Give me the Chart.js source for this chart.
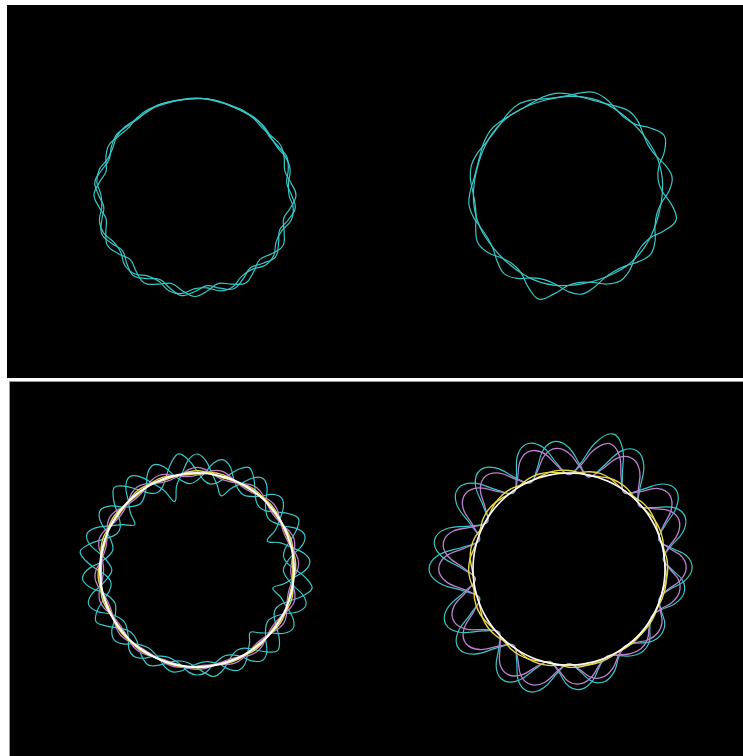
<!DOCTYPE html>
<html><head><meta charset="utf-8">
<script src="https://cdn.jsdelivr.net/npm/chart.js@4.4.1/dist/chart.umd.min.js"></script>
<style>
html,body{margin:0;padding:0;background:#fff;width:743px;height:756px;overflow:hidden}
body{position:relative}
.panel{position:absolute;background:#000}
#p1{left:7px;top:5px;width:736px;height:373px}
#p2{left:9px;top:381px;width:734px;height:375px;border-top:1px solid #9a9a9a;border-left:1px solid #9a9a9a}
.c{position:absolute;width:300px;height:300px}
</style></head><body>
<div class="panel" id="p1"></div>
<div class="panel" id="p2"></div>
<div class="c" style="left:45px;top:45px"><canvas id="tl" width="300" height="300"></canvas></div>
<div class="c" style="left:418px;top:41px"><canvas id="tr" width="300" height="300"></canvas></div>
<div class="c" style="left:47px;top:420px"><canvas id="bl" width="300" height="300"></canvas></div>
<div class="c" style="left:419px;top:419px"><canvas id="br" width="300" height="300"></canvas></div>
<script>
// angle categories (degrees, clockwise from top)
const angles48 = [0,7.5,15,22.5,30,37.5,45,52.5,60,67.5,75,82.5,90,97.5,105,112.5,120,127.5,135,142.5,150,157.5,165,172.5,180,187.5,195,202.5,210,217.5,225,232.5,240,247.5,255,262.5,270,277.5,285,292.5,300,307.5,315,322.5,330,337.5,345,352.5];
const angles60 = [0,6,12,18,24,30,36,42,48,54,60,66,72,78,84,90,96,102,108,114,120,126,132,138,144,150,156,162,168,174,180,186,192,198,204,210,216,222,228,234,240,246,252,258,264,270,276,282,288,294,300,306,312,318,324,330,336,342,348,354];
const angles80 = [0,4.5,9,13.5,18,22.5,27,31.5,36,40.5,45,49.5,54,58.5,63,67.5,72,76.5,81,85.5,90,94.5,99,103.5,108,112.5,117,121.5,126,130.5,135,139.5,144,148.5,153,157.5,162,166.5,171,175.5,180,184.5,189,193.5,198,202.5,207,211.5,216,220.5,225,229.5,234,238.5,243,247.5,252,256.5,261,265.5,270,274.5,279,283.5,288,292.5,297,301.5,306,310.5,315,319.5,324,328.5,333,337.5,342,346.5,351,355.5];

// top-left panel (radius values)
const tlCyan1 = [96.5,97.1,96.5,95.8,96.5,97.6,96.5,94.5,96.5,99.5,96.5,92.5,96.5,101.1,96.5,91.6,96.5,101.5,96.5,91.5,96.5,101.5,96.5,91.5,96.5,101.5,96.5,91.5,96.5,101.5,96.5,91.5,96.5,101,96.5,92,96.5,101,96.5,93,96.5,99,96.5,95,96.5,97.3,96.5,96];
const tlCyan2 = [97,96.5,95.9,96.5,97.3,96.5,95,96.5,99,96.5,93,96.5,101,96.5,91.7,96.5,101.5,96.5,91.5,96.5,101.5,96.5,91.5,96.5,101.5,96.5,91.5,96.5,101.5,96.5,91.5,96.5,101,96.5,92,96.5,101,96.5,92,96.5,99.5,96.5,94.5,96.5,97.5,96.5,95.9,96.5];
const tlCyan3 = [96.2,96.8,96.8,96.1,96.1,97.1,97.3,95.4,95.1,98.2,98.5,94.3,94,99.1,99.2,93.8,93.7,99.3,99.3,93.7,93.7,99.3,99.3,93.7,93.7,99.3,99.3,93.7,93.7,99.3,99.3,93.7,94,99,99,94,94,99,99,94.5,94.8,97.9,97.6,95.7,95.9,97,96.8,96.2];

// top-right panel
const trCyan1 = [94.5,95.1,95.3,95.1,94.5,93.9,93.7,93.9,94.5,95.1,95.3,95.1,94.5,93.9,93.7,93.9,94.5,95.1,95.3,95.1,94.5,93.9,93.7,93.9,94.5,95.1,95.3,95.1,94.5,93.9,93.7,93.9,94.5,95.1,95.3,95.1,94.5,93.9,93.7,93.9,94.5,95.1,95.3,95.1,94.5,93.9,93.7,93.9];
const trCyan2 = [95.3,99,102,99.6,95,92.6,94.5,103.5,111,104.5,94,90.8,94,104.5,112,104,94.3,92,94.6,100.7,104,100.7,94.6,92.2,94.5,103.5,112,104,94.2,91.6,94.5,101,104,99.9,95.1,93.8,95.3,98.5,100,98.2,95.4,94.4,95.4,98.2,100,98.4,95.3,94.1];
const trCyan3 = [97.2,95,94.1,94.9,97.7,100.5,98.8,94.5,92.3,94.2,100.5,105,101,94,91.7,94.1,100.5,104,99.9,94.4,92.7,94.4,99.9,104,100.5,94.1,91.7,94,101,104.5,99.9,94.5,93.1,94.7,98.3,100,97.7,94.9,94.1,95,97.2,98.5,97.2,95.1,94.3,95.1,97.2,98.5];

// bottom-left panel
const blWhite = [97,97,97,97,97,97,97,97,97,97,97,97,97,97,97,97,97,97,97,97,97,97,97,97,97,97,97,97,97,97,97,97,97,97,97,97,97,97,97,97,97,97,97,97,97,97,97,97,97,97,97,97,97,97,97,97,97,97,97,97,97,97,97,97,97,97,97,97,97,97,97,97,97,97,97,97,97,97,97,97];
const blYellow1 = [99.3,98.6,97,96.1,95.8,96.2,97,98.3,98.9,98.3,97,96.2,95.9,96.2,97,98.3,98.9,98.4,97,96.1,95.7,96.1,97,98.5,99.1,98.5,97,96.2,95.9,96.2,97,98.3,98.8,98.2,97,96.4,96.2,96.5,97,97.7,97.9,97.7,97,96.6,96.4,96.6,97,97.8,98.2,97.9,97,96.4,96.1,96.3,97,98.3,99,98.5,97,96.1,95.6,96,97,98.5,99.2,98.6,97,96.1,95.7,96.1,97,98.5,99.2,98.5,97,96.1,95.6,96.1,97,98.6];
const blYellow2 = [96.2,97,98.4,98.9,98.3,97,96.2,95.9,96.3,97,98.2,98.7,98.2,97,96.3,96,96.2,97,98.3,98.9,98.4,97,96.2,95.8,96.2,97,98.3,98.9,98.3,97,96.3,96,96.3,97,98,98.4,97.9,97,96.5,96.4,96.6,97,97.6,97.9,97.7,97,96.6,96.4,96.5,97,97.9,98.3,98,97,96.2,95.9,96.2,97,98.4,99.1,98.5,97,96.1,95.8,96.1,97,98.4,99,98.4,97,96.2,95.8,96.2,97,98.4,99,98.4,97,96.2,95.8];
const blMagenta1 = [102.7,100.9,97,94.8,93.9,94.9,97,100.4,101.7,100.3,97,95.1,94.3,95.1,97,100.3,101.9,100.5,97,94.8,93.8,94.8,97,100.7,102.2,100.6,97,94.9,94.1,95,97,100.2,101.4,100,97,95.4,94.9,95.6,97,98.9,99.4,98.7,97,95.9,95.5,95.9,97,99,100,99.3,97,95.4,94.7,95.3,97,100.3,102,100.7,97,94.6,93.4,94.5,97,101,102.6,100.9,97,94.7,93.8,94.7,97,100.8,102.4,100.8,97,94.7,93.7,94.7,97,101];
const blMagenta2 = [94.8,97,100.5,101.9,100.3,97,95.1,94.4,95.2,97,100,101.2,99.9,97,95.2,94.4,95.1,97,100.3,101.9,100.5,97,94.9,94.1,95,97,100.3,101.7,100.2,97,95.2,94.5,95.3,97,99.6,100.5,99.3,97,95.9,95.5,96.1,97,98.6,99.3,98.7,97,96,95.5,95.9,97,99.2,100.4,99.5,97,95.3,94.4,95.1,97,100.5,102.3,100.9,97,94.8,93.9,94.8,97,100.5,102,100.5,97,94.9,94,94.9,97,100.5,102,100.5,97,94.8,93.9];
const blCyan1 = [116,110,97,87,78,88,97,108.2,112.8,108,97,90.6,88,90.7,97,108.1,113.2,108.7,97,89.6,86.3,89.5,97,109.3,114.4,109.1,97,89.9,87.3,90.3,97,107.5,111.6,106.9,97,91.8,90.1,92.5,97,103.2,105,102.7,97,93.4,91.9,93.3,97,103.5,107,104.6,97,91.8,89.3,91.2,97,108.1,113.7,109.3,97,88.9,85.1,88.7,97,110.4,115.8,110,97,87,77,87.5,97,109.6,115,109.6,97,86,72,87,97,110.2];
const blCyan2 = [89.6,97,108.7,113.3,108.1,97,90.7,88.3,90.9,97,107,111.1,106.8,97,88,76,88,97,108,113.2,108.6,97,88,78,88,97,108,112.5,107.6,97,89,82,89.5,97,105.6,108.5,104.5,97,93.2,92.1,93.9,97,102.3,104.8,102.5,97,93.6,91.9,93.2,97,104.4,108.3,105.4,97,91.3,88.4,90.6,97,108.8,114.8,109.9,97,89.5,86.5,89.7,97,108.7,113.6,108.6,97,90,87.1,90,97,108.7,113.8,108.8,97,89.8,86.6];
const blCyan3 = [99.1,89.8,87,90.2,98.9,109,114.9,108.4,98.7,91,88.5,91.1,98.7,107.7,113.8,108.3,98.8,90.6,87.6,90.2,99,109.8,116.5,109.6,98.9,90.3,87.6,90.5,98.8,108.4,114,107.7,98.6,91.6,89.6,92.2,98.3,104.7,107.8,103.4,97.9,93.8,92.4,93.7,98,103.3,106.8,103.6,98.1,92.8,90.6,92.3,98.4,106.9,113.4,108.3,98.8,90.2,86.9,89.6,99.2,111.1,118.3,110.7,99.1,89.9,87.1,90.1,99,109.9,116.8,109.9,99,90.1,87,90,99,110.3,117.6,110.5];

// bottom-right panel
const brWhite = [96,96,96,96,96,96,96,96,96,96,96,96,96,96,96,96,96,96,96,96,96,96,96,96,96,96,96,96,96,96,96,96,96,96,96,96,96,96,96,96,96,96,96,96,96,96,96,96,96,96,96,96,96,96,96,96,96,96,96,96];
const brYellow1 = [95.8,97,99.4,100.6,99.6,97.1,95.8,97,99.1,99.7,98.8,96.8,95.8,96.8,98.3,98.7,98,96.6,95.9,96.5,97.5,97.7,97.3,96.4,95.9,96.4,97.6,98.2,97.9,96.7,95.9,96.8,98.5,99.3,98.7,96.9,95.8,97,99.1,100,99.3,97.1,95.8,97.1,99.5,100.4,99.5,97.1,95.8,97.1,99.4,100.1,99.2,97,95.8,97,99,99.6,98.8,96.9];
const brYellow2 = [98.5,96.9,95.8,97.1,99.3,100,99.1,96.9,95.8,96.9,98.6,99.1,98.4,96.7,95.9,96.6,97.9,98.1,97.6,96.5,95.9,96.4,97.2,97.5,97.1,96.4,95.9,96.5,97.8,98.5,98.2,96.7,95.9,96.8,98.6,99.3,98.8,96.9,95.8,96.9,99.1,99.9,99.2,97,95.8,97,99.3,100.2,99.4,97,95.8,97,99,99.7,98.9,96.9,95.8,96.8,98.6,99.2];
const brMagenta1 = [94.7,103.4,122.2,131.9,123.9,104.4,94.4,103.9,120.2,124.9,118,102.6,94.8,101.9,113.9,117.1,111.6,100.5,95.2,99.8,107.4,109.3,106.1,99,95.5,99.4,108.3,113.2,111.1,101.2,94.8,101.9,115.8,121.7,117.4,102.9,94.5,103.4,120.3,127.2,121.6,104.2,94.3,104.4,123.3,130.3,123.6,104.7,94.3,104.5,122.4,128,121.1,103.7,94.4,103.4,119.1,124.1,118,102.8];
const brMagenta2 = [115.7,102.9,94.4,104.3,122,127.4,120.4,103.3,94.6,102.7,116.4,120.4,114.6,101.5,95,100.9,110.5,112.7,108.2,99.6,95.4,99.1,105.5,107.4,104.7,99.1,95.3,100,110.1,115.3,112.8,101.5,94.8,102,115.9,121.9,117.5,102.9,94.6,103.3,119.8,126.5,121,103.9,94.4,104,121.7,128.4,122.1,104,94.4,103.4,119.4,124.8,118.6,102.9,94.7,102.6,116.4,121.2];
const brCyan1 = [94.3,105.5,129.6,142,131.8,106.8,93.9,106.1,127,133,124.2,104.4,94.4,103.6,119,123,116,101.8,95,100.9,110.6,113,109,99.9,95.3,100.3,111.8,118,115.4,102.7,94.5,103.6,121.4,129,123.4,104.9,94.1,105.5,127.2,136,128.8,106.5,93.8,106.8,131,140,131.4,107.2,93.8,106.9,129.8,137,128.2,105.9,94,105.5,125.6,132,124.2,104.7];
const brCyan2 = [121.3,104.8,94,106.7,129.3,136.3,127.3,105.4,94.2,104.6,122.2,127.3,119.8,103,94.7,102.3,114.6,117.4,111.6,100.6,95.2,100,108.2,110.6,107.2,100,95.1,101.1,114.1,120.8,117.6,103,94.5,103.7,121.5,129.2,123.5,104.8,94.2,105.3,126.5,135.1,128,106.1,94,106.2,129,137.6,129.5,106.2,94,105.5,126,132.9,125,104.8,94.3,104.4,122.2,128.3];

const CYAN = '#38c8c8', MAGENTA = '#bb80d2', YELLOW = '#e8d84a', WHITE = '#ffffff';

function polar(id, labels, sets) {
  new Chart(document.getElementById(id), {
    type: 'radar',
    data: {
      labels: labels,
      datasets: sets.map(s => ({
        data: s[0], borderColor: s[1], borderWidth: s[2] || 1.2,
        backgroundColor: 'rgba(0,0,0,0)', fill: false,
        pointRadius: 0, pointHoverRadius: 0, pointHitRadius: 0, tension: 0.4
      }))
    },
    options: {
      responsive: false, animation: false, events: [], devicePixelRatio: 1,
      layout: { padding: 0 },
      plugins: { legend: { display: false }, tooltip: { enabled: false } },
      scales: { r: { min: 0, max: 150,
        grid: { display: false }, angleLines: { display: false },
        ticks: { display: false }, pointLabels: { display: false } } }
    }
  });
}

polar('tl', angles48, [[tlCyan1, CYAN], [tlCyan2, CYAN], [tlCyan3, CYAN]]);
polar('tr', angles48, [[trCyan1, CYAN], [trCyan2, CYAN], [trCyan3, CYAN]]);
polar('bl', angles80, [[blWhite, WHITE, 2], [blYellow1, YELLOW, 1.4], [blYellow2, YELLOW, 1.4], [blMagenta1, MAGENTA, 1.3], [blMagenta2, MAGENTA, 1.3], [blCyan1, CYAN], [blCyan2, CYAN], [blCyan3, CYAN]]);
polar('br', angles60, [[brWhite, WHITE, 1.6], [brYellow1, YELLOW, 1.4], [brYellow2, YELLOW, 1.4], [brMagenta1, MAGENTA, 1.3], [brMagenta2, MAGENTA, 1.3], [brCyan1, CYAN], [brCyan2, CYAN]]);
</script>
</body></html>
